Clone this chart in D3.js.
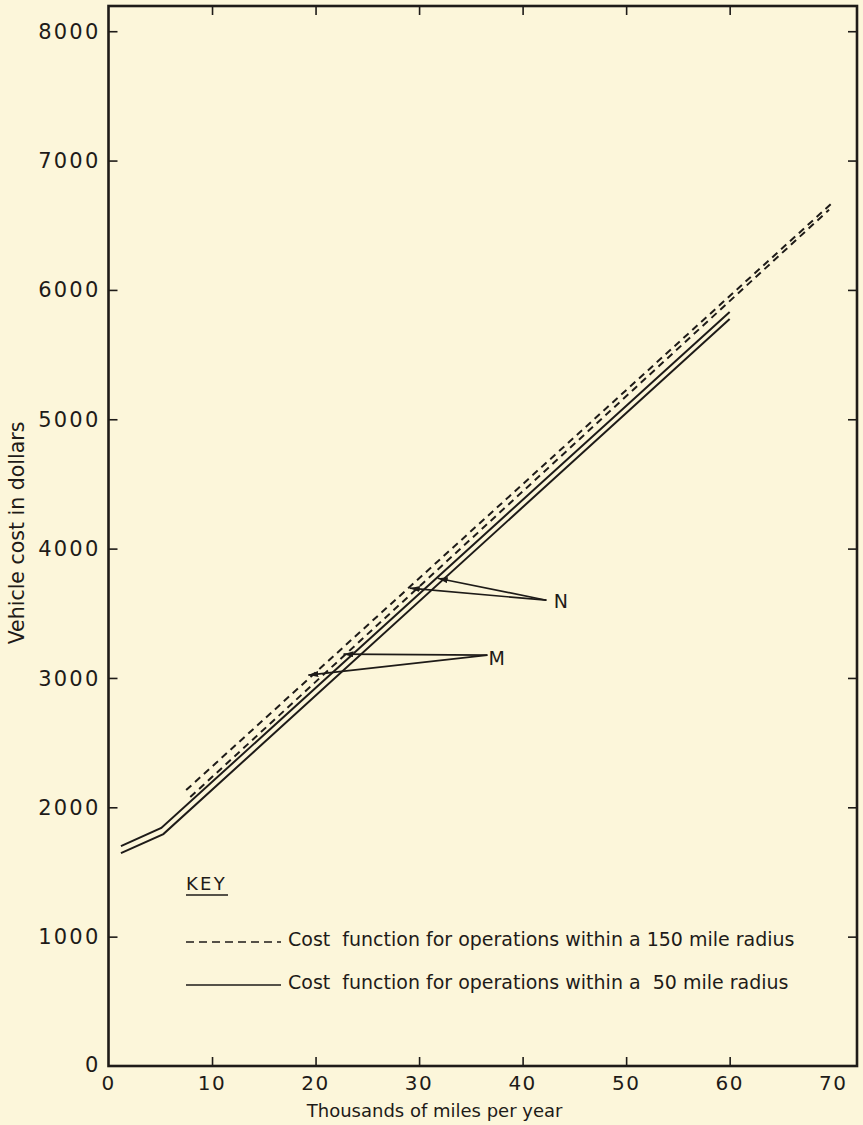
<!DOCTYPE html>
<html>
<head>
<meta charset="utf-8">
<script src="https://cdn.jsdelivr.net/npm/d3@7"></script>
<style>
  html, body { margin: 0; padding: 0; background: #fcf6da; }
  svg { display: block; }
  text { font-family: "DejaVu Sans", sans-serif; fill: #1e1b18; }
</style>
</head>
<body>
<svg id="chart"></svg>
<script>
// 数据
const xTicks = [0, 10, 20, 30, 40, 50, 60, 70];
const yTicks = [0, 1000, 2000, 3000, 4000, 5000, 6000, 7000, 8000];

// 50 mile radius (solid)
const solidUpper = [[1.2, 1700], [5.1, 1840], [60, 5830]];
const solidLower = [[1.2, 1646], [5.3, 1793], [60, 5776]];
// 150 mile radius (dashed)
const dashedUpper = [[7.5, 2133], [70, 6680]];
const dashedLower = [[7.9, 2079], [69.6, 6620]];

const pointerN = { label: "N", tail: [42.3, 3601], tips: [[29.1, 3694], [31.8, 3771]], at: [43.7, 3593] };
const pointerM = { label: "M", tail: [36.6, 3176], tips: [[22.7, 3184], [19.3, 3022]], at: [37.5, 3150] };

const keyLabels = [
  "Cost  function for operations within a 150 mile radius",
  "Cost  function for operations within a  50 mile radius"
];

const width = 863, height = 1125;
const plotLeft = 108.5, plotRight = 857, plotTop = 6, plotBottom = 1066;
const ink = "#1e1b18";

const svg = d3.select("#chart").attr("width", width).attr("height", height);

const x = d3.scaleLinear().domain([0, 72.3]).range([plotLeft, plotRight]);
const y = d3.scaleLinear().domain([0, 8195]).range([plotBottom, plotTop]);

// 坐标轴刻度 (四边)
const tickIn = 9;
svg.append("g").attr("transform", `translate(${plotLeft},0)`)
  .call(d3.axisRight(y).tickValues(yTicks.slice(1)).tickSize(tickIn).tickFormat(""))
  .call(g => g.select(".domain").remove());
svg.append("g").attr("transform", `translate(${plotRight},0)`)
  .call(d3.axisLeft(y).tickValues(yTicks.slice(1)).tickSize(tickIn).tickFormat(""))
  .call(g => g.select(".domain").remove());
svg.append("g").attr("transform", `translate(0,${plotBottom})`)
  .call(d3.axisTop(x).tickValues(xTicks.slice(1, 7)).tickSize(tickIn).tickFormat(""))
  .call(g => g.select(".domain").remove());
svg.append("g").attr("transform", `translate(0,${plotTop})`)
  .call(d3.axisBottom(x).tickValues(xTicks.slice(1, 7)).tickSize(tickIn).tickFormat(""))
  .call(g => g.select(".domain").remove());
svg.selectAll(".tick line").attr("stroke", ink).attr("stroke-width", 1.6);

// 边框
svg.append("rect")
  .attr("x", plotLeft).attr("y", plotTop)
  .attr("width", plotRight - plotLeft).attr("height", plotBottom - plotTop)
  .attr("fill", "none").attr("stroke", ink).attr("stroke-width", 2.6);

// 刻度标签
svg.append("g").selectAll("text").data(yTicks).join("text")
  .attr("x", plotLeft - 8)
  .attr("y", d => y(d) + (d === 0 ? -2 : 0))
  .attr("dy", "0.36em")
  .attr("text-anchor", "end")
  .attr("font-size", 21)
  .attr("letter-spacing", 2.2)
  .text(d => d);

svg.append("g").selectAll("text").data(xTicks).join("text")
  .attr("x", d => x(d))
  .attr("y", plotBottom + 24)
  .attr("text-anchor", "middle")
  .attr("font-size", 20)
  .attr("letter-spacing", 1.5)
  .text(d => d);

// 轴标题
svg.append("text")
  .attr("x", x(31.5)).attr("y", 1117)
  .attr("text-anchor", "middle")
  .attr("font-size", 18)
  .text("Thousands of miles per year");

svg.append("text")
  .attr("transform", "translate(24,533) rotate(-90)")
  .attr("text-anchor", "middle")
  .attr("font-size", 20.5)
  .text("Vehicle cost in dollars");

// 曲线
const line = d3.line().x(d => x(d[0])).y(d => y(d[1]));
const series = [
  { pts: solidUpper, dash: null },
  { pts: solidLower, dash: null },
  { pts: dashedUpper, dash: "7,5" },
  { pts: dashedLower, dash: "7,5" }
];
svg.append("g").selectAll("path").data(series).join("path")
  .attr("d", d => line(d.pts))
  .attr("fill", "none")
  .attr("stroke", ink)
  .attr("stroke-width", 2)
  .attr("stroke-dasharray", d => d.dash);

// 箭头
svg.append("defs").append("marker")
  .attr("id", "head")
  .attr("viewBox", "0 0 10 6")
  .attr("refX", 10).attr("refY", 3)
  .attr("markerWidth", 10).attr("markerHeight", 6)
  .attr("markerUnits", "userSpaceOnUse")
  .attr("orient", "auto")
  .append("path").attr("d", "M0,0L10,3L0,6Z").attr("fill", ink);

[pointerN, pointerM].forEach(p => {
  p.tips.forEach(t => {
    svg.append("line")
      .attr("x1", x(p.tail[0])).attr("y1", y(p.tail[1]))
      .attr("x2", x(t[0])).attr("y2", y(t[1]))
      .attr("stroke", ink).attr("stroke-width", 1.7)
      .attr("marker-end", "url(#head)");
  });
  svg.append("text")
    .attr("x", x(p.at[0])).attr("y", y(p.at[1]))
    .attr("dy", "0.36em")
    .attr("text-anchor", "middle")
    .attr("font-size", 19)
    .text(p.label);
});

// 图例
const key = svg.append("g");
key.append("text").attr("x", 186).attr("y", 890)
  .attr("font-size", 18).attr("letter-spacing", 2.3).text("KEY");
key.append("line").attr("x1", 186).attr("x2", 228).attr("y1", 895).attr("y2", 895)
  .attr("stroke", ink).attr("stroke-width", 1.6);

const rows = [{ dash: "8,5", ty: 946 }, { dash: null, ty: 989 }];
rows.forEach((r, i) => {
  key.append("line")
    .attr("x1", 186).attr("x2", 281)
    .attr("y1", r.ty - 4).attr("y2", r.ty - 4)
    .attr("stroke", ink).attr("stroke-width", 1.6)
    .attr("stroke-dasharray", r.dash);
  key.append("text")
    .attr("x", 288).attr("y", r.ty)
    .attr("font-size", 19)
    .attr("xml:space", "preserve")
    .style("white-space", "pre")
    .text(keyLabels[i]);
});
</script>
</body>
</html>
